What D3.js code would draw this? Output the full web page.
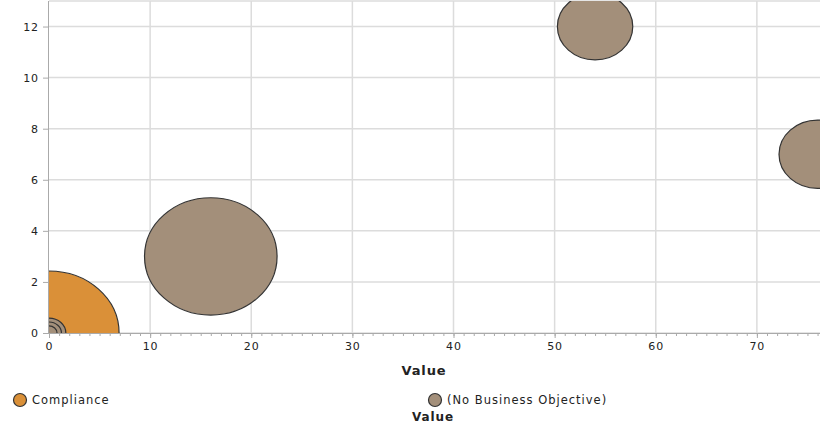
<!DOCTYPE html>
<meta charset="utf-8">
<style>
body { margin: 0; background: #fff; }
text { font-family: "DejaVu Sans", sans-serif; fill: #222; letter-spacing: 0.9px; }
.grid line { stroke: #dcdcdc; stroke-width: 1.5px; }
.axis path, .axis line { stroke: #aaa; }
.bubble { stroke: #333; stroke-width: 1.2px; }
</style>
<body>
<script src="https://d3js.org/d3.v7.min.js"></script>
<script>

// series data
var series = ["Compliance", "(No Business Objective)"];
var colors = ["#da9038", "#a38f7a"];

// each bubble: series index, x value, y value, size value
var bubbleSeries = [1, 1, 1, 0, 1, 1, 1];
var bubbleX = [16, 54, 76, 0, 0, 0, 0];
var bubbleY = [3, 12, 7, 0, 0, 0, 0];
var bubbleZ = [34, 11, 11.5, 38, 2.2, 1.2, 0.5];

var xTicks = [0, 10, 20, 30, 40, 50, 60, 70];
var yTicks = [0, 2, 4, 6, 8, 10, 12];

var width = 820, height = 431;
var plot = {left: 49, top: 1, right: 820, bottom: 333};

var x = d3.scaleLinear().domain([0, 80]).range([plot.left, plot.left + 809]);
var y = d3.scaleLinear().domain([0, 13]).range([plot.bottom, plot.top]);
var r = d3.scaleSqrt().domain([0, 38]).range([0, 62]);

var svg = d3.select("body").append("svg")
    .attr("width", width)
    .attr("height", height);

svg.append("clipPath").attr("id", "clip")
  .append("rect")
    .attr("x", plot.left).attr("y", plot.top)
    .attr("width", plot.right - plot.left).attr("height", plot.bottom - plot.top);

// grid
var grid = svg.append("g").attr("class", "grid");
grid.selectAll(".gx").data(xTicks.slice(1)).enter().append("line")
    .attr("x1", d => x(d)).attr("x2", d => x(d))
    .attr("y1", plot.top).attr("y2", plot.bottom);
grid.selectAll(".gy").data(yTicks.concat([13])).enter().append("line")
    .attr("x1", plot.left).attr("x2", plot.right)
    .attr("y1", d => y(d)).attr("y2", d => y(d));

// bubbles, biggest first
var bubbles = bubbleX.map(function(d, i) {
  return {s: bubbleSeries[i], x: d, y: bubbleY[i], z: bubbleZ[i]};
}).sort((a, b) => b.z - a.z);

svg.append("g").attr("clip-path", "url(#clip)")
  .selectAll("ellipse").data(bubbles).enter().append("ellipse")
    .attr("class", "bubble")
    .attr("cx", d => x(d.x))
    .attr("cy", d => y(d.y))
    .attr("rx", d => r(d.z) * 1.13)
    .attr("ry", d => r(d.z))
    .attr("fill", d => colors[d.s]);

// x axis with minor ticks
svg.append("g")
    .attr("class", "axis")
    .attr("transform", "translate(0," + plot.bottom + ")")
    .call(d3.axisBottom(x).tickValues(d3.range(0, 81, 1)).tickSize(3).tickFormat(""))
    .call(g => g.select(".domain").remove());
svg.append("g")
    .attr("class", "axis")
    .attr("transform", "translate(0," + plot.bottom + ")")
    .call(d3.axisBottom(x).tickValues(xTicks).tickSize(5).tickSizeOuter(0).tickPadding(4))
    .call(g => g.select(".domain").attr("d", "M" + plot.left + ",0.5H" + plot.right))
    .call(g => g.selectAll("text").style("font-size", "11px").attr("fill", "#222"));

// y axis
svg.append("g")
    .attr("class", "axis")
    .attr("transform", "translate(" + plot.left + ",0)")
    .call(d3.axisLeft(y).tickValues(yTicks).tickSize(6).tickSizeOuter(0).tickPadding(4))
    .call(g => g.select(".domain").attr("d", "M-0.5," + plot.top + "V" + plot.bottom))
    .call(g => g.selectAll("text").style("font-size", "11px").attr("fill", "#222"));

// x title
svg.append("text")
    .attr("x", 424).attr("y", 375)
    .attr("text-anchor", "middle")
    .style("font-size", "13px").style("font-weight", "bold")
    .text("Value");

// legend
var legendX = [20, 435];
var legend = svg.selectAll(".legend").data(series).enter().append("g")
    .attr("transform", (d, i) => "translate(" + legendX[i] + ",400)");
legend.append("circle")
    .attr("r", 6.5)
    .attr("fill", (d, i) => colors[i])
    .attr("stroke", "#333").attr("stroke-width", 1.2);
legend.append("text")
    .attr("x", 12).attr("dy", "0.35em")
    .style("font-size", "11.5px")
    .style("letter-spacing", "1px")
    .text(d => d);

svg.append("text")
    .attr("x", 433).attr("y", 421)
    .attr("text-anchor", "middle")
    .style("font-size", "12px").style("font-weight", "bold")
    .text("Value");

</script>
</body>
